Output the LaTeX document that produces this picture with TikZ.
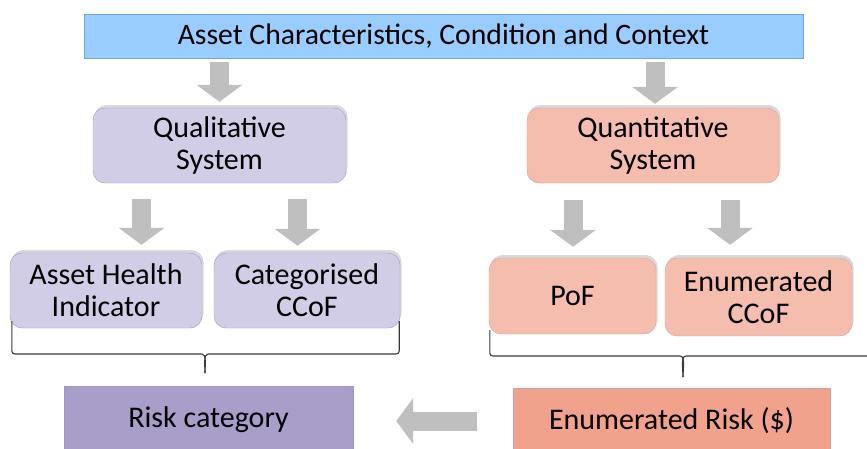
\documentclass[tikz,border=0pt]{standalone}
\usepackage{fontspec}
\setmainfont{Carlito}
\usetikzlibrary{arrows.meta,calc,shadows}

\definecolor{inputblue}{HTML}{99CCFF}
\definecolor{inputline}{HTML}{6FA8DC}
\definecolor{qualfill}{HTML}{D2CDE6}
\definecolor{qualline}{HTML}{A196CC}
\definecolor{quantfill}{HTML}{F4BDAE}
\definecolor{quantline}{HTML}{D3A2B0}
\definecolor{riskqual}{HTML}{A99DCA}
\definecolor{riskquant}{HTML}{F0A28C}
\definecolor{flowgray}{HTML}{BFBFBF}
\definecolor{bracegray}{HTML}{3A3A3A}

\tikzset{
    block/.style={draw, rounded corners=12pt, align=center, font=\fontsize{30}{32}\selectfont,
        drop shadow={opacity=0.3, shadow xshift=1.5pt, shadow yshift=3pt}},
    qualbox/.style={block, fill=qualfill, draw=qualline},
    quantbox/.style={block, fill=quantfill, draw=quantline},
    flow/.style={flowgray, line width=19pt, -{Triangle[width=45pt,length=17pt]}},
    bracket/.style={bracegray, line width=1.1pt, rounded corners=3pt},
}

\begin{document}
\begin{tikzpicture}[x=1pt, y=-1pt]
    \useasboundingbox (0,0) rectangle (867,448);
    \clip (0,0) rectangle (867,448);

    \node[draw=inputline, fill=inputblue, minimum width=719pt, minimum height=44pt,
        font=\fontsize{29.7}{32}\selectfont] (input) at (443.5,36) {Asset Characteristics, Condition and Context};

    \node[qualbox, minimum width=253pt, minimum height=75pt] (qual) at (219.5,145.5) {Qualitative\\System};
    \node[quantbox, minimum width=252pt, minimum height=75pt] (quant) at (653,145.5) {Quantitative\\System};

    \node[qualbox, minimum width=192pt, minimum height=75pt] (health) at (106,290.5) {Asset Health\\Indicator};
    \node[qualbox, minimum width=186pt, minimum height=75pt] (catccof) at (307,290.5) {Categorised\\CCoF};
    \node[quantbox, minimum width=167pt, minimum height=76pt] (pof) at (572.5,296) {PoF};
    \node[quantbox, minimum width=187pt, minimum height=78pt] (enccof) at (758.5,297) {Enumerated\\CCoF};

    \node[draw=qualline, fill=riskqual, minimum width=289pt, minimum height=68pt,
        font=\fontsize{30}{32}\selectfont] (riskcat) at (208.5,420) {Risk category};
    \node[draw=quantline, fill=riskquant, minimum width=317pt, minimum height=66pt,
        font=\fontsize{30}{32}\selectfont] (riskenum) at (671.5,421) {Enumerated Risk (\$)};

    % block arrows
    \draw[flow, shorten <=4pt, shorten >=6pt] (qual.north |- input.south) -- (qual.north);
    \draw[flow, shorten <=4pt, shorten >=4pt] ([xshift=2pt]quant.north |- input.south) -- ([xshift=2pt]quant.north);
    \draw[flow, shorten <=16pt, shorten >=8pt] ([xshift=-78pt]qual.south) -- ([xshift=-78pt]qual.south |- health.north);
    \draw[flow, shorten <=16pt, shorten >=7pt] ([xshift=78pt]qual.south) -- ([xshift=78pt]qual.south |- catccof.north);
    \draw[flow, shorten <=17pt, shorten >=11pt] ([xshift=-80pt]quant.south) -- ([xshift=-80pt]quant.south |- pof.north);
    \draw[flow, shorten <=17pt, shorten >=13pt] ([xshift=77pt]quant.south) -- ([xshift=77pt]quant.south |- enccof.north);
    \draw[flow, shorten <=36pt, shorten >=43pt] (riskenum.west) -- (riskenum.west -| riskcat.east);

    % brackets
    \coordinate (qtip) at ($(health.west)!0.5!(catccof.east)$);
    \draw[bracket] ([xshift=2pt,yshift=7pt]health.south west) |- ([xshift=-6pt]qtip |- 0,354)
        to[out=0,in=90] (qtip |- 0,373);
    \draw[bracket] ([xshift=-1pt,yshift=7pt]catccof.south east) |- ([xshift=6pt]qtip |- 0,354)
        to[out=180,in=90] (qtip |- 0,373);
    \coordinate (ntip) at (683,0);
    \draw[bracket] ([xshift=1pt,yshift=4pt]pof.south west) |- ([xshift=-6pt]ntip |- 0,356)
        to[out=0,in=90] (ntip |- 0,377);
    \draw[bracket] (890,338) |- ([xshift=6pt]ntip |- 0,356)
        to[out=180,in=90] (ntip |- 0,377);
\end{tikzpicture}
\end{document}
